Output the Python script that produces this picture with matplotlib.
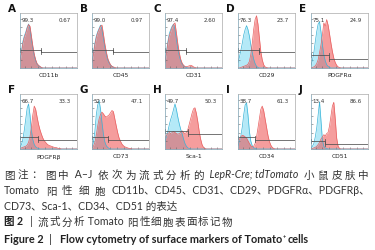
"""Flow cytometry overlay histograms of Tomato+ cell surface markers (Figure 2)."""

import matplotlib
matplotlib.use("Agg")
import matplotlib.pyplot as plt

W, H = 375, 251

# channel positions (fraction of the x axis) for the histogram bins
channel = [0.000, 0.025, 0.050, 0.075, 0.100, 0.125, 0.150, 0.175, 0.200, 0.225,
           0.250, 0.275, 0.300, 0.325, 0.350, 0.375, 0.400, 0.425, 0.450, 0.475,
           0.500, 0.525, 0.550, 0.575, 0.600, 0.625, 0.650, 0.675, 0.700]

letters = ["A", "B", "C", "D", "E", "F", "G", "H", "I", "J"]
markers = ["CD11b", "CD45", "CD31", "CD29", "PDGFRα", "PDGFRβ", "CD73", "Sca-1", "CD34", "CD51"]
neg_pct = ["99.3", "99.0", "97.4", "76.3", "75.1", "66.7", "52.9", "49.7", "38.7", "13.4"]
pos_pct = ["0.67", "0.97", "2.60", "23.7", "24.9", "33.3", "47.1", "50.3", "61.3", "86.6"]

# control (blue) histograms, relative counts
control = [
    [0.15, 0.30, 0.48, 0.58, 0.65, 0.74, 0.80, 0.72, 0.52, 0.36, 0.22, 0.13, 0.07, 0.04, 0.02, 0.01],
    [0.12, 0.28, 0.45, 0.58, 0.66, 0.72, 0.78, 0.70, 0.54, 0.38, 0.25, 0.15, 0.09, 0.05, 0.03, 0.01],
    [0.12, 0.30, 0.48, 0.62, 0.70, 0.76, 0.80, 0.70, 0.52, 0.35, 0.22, 0.13, 0.07, 0.04, 0.02, 0.01],
    [0.10, 0.20, 0.32, 0.45, 0.60, 0.70, 0.77, 0.70, 0.58, 0.42, 0.28, 0.16, 0.08, 0.03, 0.01],
    [0.05, 0.14, 0.28, 0.48, 0.66, 0.80, 0.84, 0.66, 0.42, 0.24, 0.13, 0.06, 0.03, 0.01],
    [0.03, 0.08, 0.18, 0.34, 0.54, 0.74, 0.82, 0.62, 0.34, 0.17, 0.08, 0.04, 0.02, 0.01],
    [0.03, 0.12, 0.32, 0.62, 0.80, 0.88, 0.72, 0.48, 0.27, 0.13, 0.06, 0.03, 0.01],
    [0.15, 0.22, 0.32, 0.44, 0.54, 0.62, 0.72, 0.82, 0.72, 0.58, 0.46, 0.36, 0.28, 0.18, 0.10, 0.05, 0.02, 0.01],
    [0.06, 0.14, 0.24, 0.40, 0.62, 0.80, 0.84, 0.62, 0.32, 0.14, 0.06, 0.02, 0.01],
    [0.02, 0.05, 0.10, 0.22, 0.38, 0.62, 0.86, 0.52, 0.16, 0.05, 0.02, 0.01],
]

# Tomato+ (red) histograms, relative counts
tomato = [
    [0.12, 0.26, 0.44, 0.55, 0.62, 0.72, 0.79, 0.76, 0.58, 0.40, 0.25, 0.15, 0.08, 0.05, 0.03, 0.01],
    [0.10, 0.24, 0.42, 0.55, 0.64, 0.70, 0.76, 0.78, 0.62, 0.44, 0.30, 0.18, 0.11, 0.06, 0.03, 0.02, 0.01],
    [0.10, 0.26, 0.44, 0.58, 0.66, 0.74, 0.79, 0.82, 0.64, 0.44, 0.28, 0.16, 0.09, 0.05, 0.03, 0.03, 0.03, 0.04,
     0.05, 0.04, 0.02, 0.01],
    [0.00, 0.00, 0.01, 0.02, 0.03, 0.04, 0.05, 0.07, 0.12, 0.25, 0.45, 0.70, 0.88, 0.95, 0.80, 0.55, 0.30, 0.15,
     0.06, 0.02, 0.01],
    [0.00, 0.01, 0.02, 0.04, 0.08, 0.15, 0.28, 0.42, 0.60, 0.82, 0.76, 0.88, 0.78, 0.62, 0.45, 0.30, 0.18, 0.10,
     0.05, 0.02, 0.01],
    [0.01, 0.02, 0.03, 0.04, 0.05, 0.07, 0.12, 0.22, 0.40, 0.62, 0.78, 0.72, 0.58, 0.45, 0.35, 0.27, 0.20, 0.15,
     0.12, 0.09, 0.07, 0.06, 0.05, 0.04, 0.03, 0.03, 0.02, 0.01, 0.01],
    [0.02, 0.05, 0.12, 0.25, 0.42, 0.55, 0.63, 0.67, 0.64, 0.60, 0.58, 0.60, 0.62, 0.66, 0.70, 0.68, 0.55, 0.42,
     0.30, 0.20, 0.14, 0.09, 0.06, 0.04, 0.03, 0.02, 0.01, 0.01],
    [0.20, 0.25, 0.28, 0.30, 0.28, 0.30, 0.32, 0.30, 0.28, 0.27, 0.28, 0.30, 0.33, 0.30, 0.28, 0.30, 0.35, 0.45,
     0.55, 0.65, 0.73, 0.75, 0.65, 0.50, 0.32, 0.18, 0.08, 0.03, 0.01],
    [0.10, 0.18, 0.22, 0.25, 0.24, 0.22, 0.20, 0.15, 0.10, 0.06, 0.04, 0.05, 0.10, 0.22, 0.38, 0.55, 0.72, 0.78,
     0.70, 0.55, 0.40, 0.25, 0.14, 0.07, 0.03, 0.01],
    [0.00, 0.01, 0.02, 0.03, 0.05, 0.08, 0.12, 0.18, 0.22, 0.26, 0.24, 0.28, 0.30, 0.42, 0.60, 0.78, 0.85, 0.55,
     0.20, 0.05, 0.01],
]

# gate: split position, left gate height, right gate height (axes fractions)
gate_split = [0.37, 0.37, 0.37, 0.36, 0.31, 0.31, 0.28, 0.40, 0.29, 0.24]
gate_left_y = [0.33, 0.33, 0.33, 0.33, 0.23, 0.21, 0.21, 0.33, 0.21, 0.15]
gate_right_y = [0.29, 0.29, 0.29, 0.29, 0.17, 0.155, 0.155, 0.27, 0.155, 0.09]

col_left = [20, 92, 165, 238, 311]
row_top = [14, 95]
ax_w, ax_h = 57, 55

BLUE_FILL, BLUE_EDGE = "#5ad0ee", "#3ab4d8"
RED_FILL, RED_EDGE = "#ec3c3c", "#e86060"
GATE = "#505050"

fig = plt.figure(figsize=(W / 100, H / 100), dpi=100)


def curve(values):
    xs = channel[:len(values)] + [channel[len(values) - 1] + 0.025, 1.0]
    ys = list(values) + [0.0, 0.0]
    return xs, ys


for i in range(10):
    r, c = divmod(i, 5)
    left, top = col_left[c], row_top[r]
    ax = fig.add_axes([left / W, 1 - (top + ax_h) / H, ax_w / W, ax_h / H])

    bx, by = curve(control[i])
    rx, ry = curve(tomato[i])
    ax.fill_between(bx, by, color=BLUE_FILL, alpha=0.45, lw=0)
    ax.fill_between(rx, ry, color=RED_FILL, alpha=0.5, lw=0)
    ax.plot(bx, by, color=BLUE_EDGE, lw=0.5)
    ax.plot(rx, ry, color=RED_EDGE, lw=0.5)

    s, yl, yr = gate_split[i], gate_left_y[i], gate_right_y[i]
    ax.plot([0.005, s], [yl, yl], color=GATE, lw=0.55)
    ax.plot([s, 0.995], [yr, yr], color=GATE, lw=0.55)
    for gx, gy in [(0.005, yl), (s, yl), (s, yr), (0.995, yr)]:
        ax.plot([gx, gx], [gy - 0.035, gy + 0.035], color=GATE, lw=0.55)

    ax.text(0.03, 0.93, neg_pct[i], transform=ax.transAxes, fontsize=4, color="#333333",
            ha="left", va="top")
    ax.text(0.90, 0.93, pos_pct[i], transform=ax.transAxes, fontsize=4, color="#333333",
            ha="right", va="top")

    ax.set_xlim(0, 1)
    ax.set_ylim(0, 1)
    ax.set_xticks([0.08, 0.2, 0.32, 0.44, 0.56, 0.68, 0.8, 0.92])
    ax.set_yticks([0.15, 0.3, 0.45, 0.6, 0.75, 0.9])
    ax.tick_params(length=1.2, width=0.4, color="#666666", direction="in",
                   labelbottom=False, labelleft=False)
    for sp in ax.spines.values():
        sp.set_linewidth(0.5)
        sp.set_color("#aaaaaa")
    ax.spines["left"].set_color("#7a9fb0")
    ax.spines["bottom"].set_color("#7a9fb0")

    fig.text((left + ax_w / 2) / W, 1 - (top + ax_h + 7) / H, markers[i], fontsize=4.3,
             ha="center", va="center", color="#222222")
    fig.text((left - 12) / W, 1 - (top - 5) / H, letters[i], fontsize=7.5,
             fontweight="bold", ha="left", va="center", color="#111111")

# ---- caption ----
FAM = ["Lato", "Noto Sans CJK SC", "DejaVu Sans"]
FS = 7.6
EM = FS * 100 / 72  # CJK glyph advance in pixels
renderer = fig.canvas.get_renderer()


def justify(tokens, y, x0, x1, color="#333333"):
    """Spread tokens evenly between pixel x0 and x1, centred on y (pixels from top)."""
    texts, widths = [], []
    for tok, kw in tokens:
        t = fig.text(0, 1 - y / H, tok, fontsize=FS, va="baseline", ha="left", color=color,
                     family=FAM, **kw)
        texts.append(t)
        if len(tok) == 1 and ord(tok) > 0x2E80:
            widths.append(EM)
        else:
            widths.append(t.get_window_extent(renderer).width)
    gap = max(0.0, (x1 - x0 - sum(widths)) / (len(texts) - 1))
    x = x0
    for t, w in zip(texts, widths):
        t.set_x(x / W)
        x += w + gap


plain = {}
ital = {"style": "italic"}

line1 = [(ch, plain) for ch in "图注：图中"] + [(" A–J ", plain)] + \
        [(ch, plain) for ch in "依次为流式分析的"] + [(" LepR-Cre;", ital), ("tdTomato ", ital)] + \
        [(ch, plain) for ch in "小鼠皮肤中"]
justify(line1, 178.5, 4, 369)

line2 = [("Tomato", plain)] + [(ch, plain) for ch in "阳性细胞"] + \
        [("CD11b、CD45、CD31、CD29、PDGFRα、PDGFRβ、", plain)]
justify(line2, 194.5, 4, 370)

fig.text(4 / W, 1 - 206.5 / H, "CD73、Sca-1、CD34、CD51 的表达", fontsize=FS, family=FAM,
         va="center", ha="left", color="#333333")

fig.text(4 / W, 1 - 222 / H, "图 2", fontsize=FS, family=FAM, fontweight="bold",
         va="center", ha="left", color="#222222")
fig.text(30 / W, 1 - 222 / H, "|", fontsize=FS, family=FAM, va="center", ha="left", color="#333333")
line4 = [(ch, plain) for ch in "流式分析"] + [(" Tomato ", plain)] + \
        [(ch, plain) for ch in "阳性细胞表面标记物"]
justify(line4, 225.5, 38, 232)

FS5 = 7.8
fig.text(4 / W, 1 - 239.5 / H, "Figure 2", fontsize=FS5, family=FAM, fontweight="bold",
         va="center", ha="left", color="#222222")
fig.text(49 / W, 1 - 239.5 / H, "|", fontsize=FS5, family=FAM, va="center", ha="left", color="#222222")
t5 = fig.text(60 / W, 1 - 239.5 / H, "Flow cytometry of surface markers of Tomato", fontsize=FS5,
              family=FAM, fontweight="bold", va="center", ha="left", color="#222222")
x_end = t5.get_window_extent(renderer).x1
fig.text((x_end + 0.5) / W, 1 - 236 / H, "+", fontsize=4, family=FAM, fontweight="bold",
         va="center", ha="left", color="#222222")
fig.text((x_end + 5) / W, 1 - 239.5 / H, "cells", fontsize=FS5, family=FAM, fontweight="bold",
         va="center", ha="left", color="#222222")

fig.savefig("out.png", dpi=100)
